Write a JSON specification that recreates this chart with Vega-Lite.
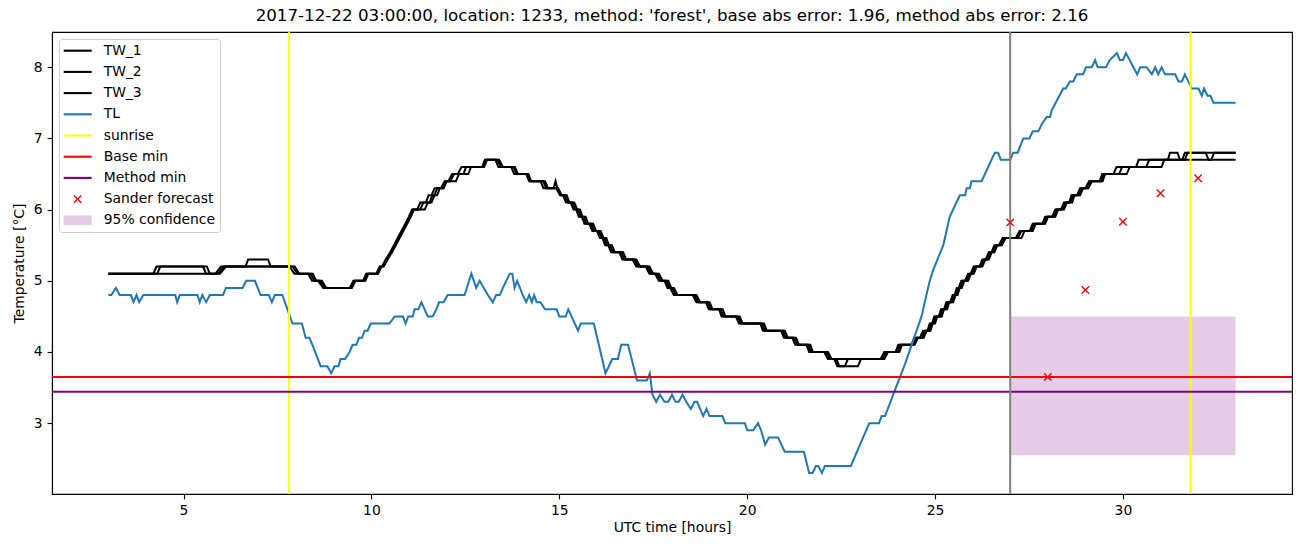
{
"$schema": "https://vega.github.io/schema/vega-lite/v6.json",
"width": 1240, "height": 462,
"autosize": {"type": "none"},
"padding": {"left": 52, "top": 32, "right": 10, "bottom": 53},
"background": "white",
"title": {"text": "2017-12-22 03:00:00, location: 1233, method: 'forest', base abs error: 1.96, method abs error: 2.16", "font": "DejaVu Sans", "fontSize": 16.7, "fontWeight": "normal", "color": "black", "anchor": "middle", "offset": 6},
"config": {
  "view": {"stroke": "black", "strokeWidth": 1.1},
  "axis": {"domainColor": "black", "domainWidth": 1.1, "tickColor": "black", "tickWidth": 1.1, "tickSize": 4.9, "labelPadding": 4.9, "labelFont": "DejaVu Sans", "labelFontSize": 13.9, "labelColor": "black", "titleFont": "DejaVu Sans", "titleFontSize": 13.9, "titleFontWeight": "normal", "titleColor": "black", "grid": false},
  "axisX": {"titlePadding": 3},
  "axisY": {"titlePadding": 7}
},
"datasets": {
"tw1": [{"h":3,"t":5.1},{"h":4.2,"t":5.1},{"h":4.28,"t":5.2},{"h":5.52,"t":5.2},{"h":5.6,"t":5.1},{"h":5.85,"t":5.1},{"h":6.0,"t":5.2},{"h":6.65,"t":5.2},{"h":6.72,"t":5.3},{"h":7.25,"t":5.3},{"h":7.32,"t":5.2},{"h":7.82,"t":5.2},{"h":7.95,"t":5.1},{"h":8.32,"t":5.1},{"h":8.42,"t":5.0},{"h":8.58,"t":5.0},{"h":8.72,"t":4.9},{"h":9.42,"t":4.9},{"h":9.52,"t":5.0},{"h":9.78,"t":5.0},{"h":9.86,"t":5.1},{"h":10.13,"t":5.1},{"h":10.22,"t":5.2},{"h":10.28,"t":5.2},{"h":10.38,"t":5.3},{"h":10.5,"t":5.4},{"h":10.6,"t":5.5},{"h":10.7,"t":5.6},{"h":10.8,"t":5.7},{"h":10.9,"t":5.8},{"h":11.0,"t":5.9},{"h":11.08,"t":6.0},{"h":11.42,"t":6.0},{"h":11.5,"t":6.1},{"h":11.55,"t":6.1},{"h":11.62,"t":6.2},{"h":11.68,"t":6.2},{"h":11.75,"t":6.3},{"h":11.85,"t":6.3},{"h":11.95,"t":6.4},{"h":12.05,"t":6.4},{"h":12.15,"t":6.5},{"h":12.3,"t":6.5},{"h":12.4,"t":6.6},{"h":12.95,"t":6.6},{"h":13.02,"t":6.7},{"h":13.35,"t":6.7},{"h":13.45,"t":6.6},{"h":13.78,"t":6.6},{"h":13.86,"t":6.5},{"h":14.12,"t":6.5},{"h":14.2,"t":6.4},{"h":14.57,"t":6.4},{"h":14.65,"t":6.3},{"h":14.92,"t":6.3},{"h":15.02,"t":6.2},{"h":15.1,"t":6.2},{"h":15.18,"t":6.1},{"h":15.3,"t":6.1},{"h":15.38,"t":6.0},{"h":15.45,"t":6.0},{"h":15.52,"t":5.9},{"h":15.6,"t":5.9},{"h":15.67,"t":5.8},{"h":15.8,"t":5.8},{"h":15.88,"t":5.7},{"h":16.0,"t":5.7},{"h":16.08,"t":5.6},{"h":16.15,"t":5.6},{"h":16.22,"t":5.5},{"h":16.3,"t":5.5},{"h":16.38,"t":5.4},{"h":16.6,"t":5.4},{"h":16.68,"t":5.3},{"h":16.95,"t":5.3},{"h":17.05,"t":5.2},{"h":17.3,"t":5.2},{"h":17.4,"t":5.1},{"h":17.55,"t":5.1},{"h":17.65,"t":5.0},{"h":17.8,"t":5.0},{"h":17.88,"t":4.9},{"h":17.95,"t":4.9},{"h":18.05,"t":4.8},{"h":18.55,"t":4.8},{"h":18.65,"t":4.7},{"h":18.9,"t":4.7},{"h":18.98,"t":4.6},{"h":19.25,"t":4.6},{"h":19.32,"t":4.5},{"h":19.7,"t":4.5},{"h":19.78,"t":4.4},{"h":20.35,"t":4.4},{"h":20.42,"t":4.3},{"h":20.9,"t":4.3},{"h":20.98,"t":4.2},{"h":21.2,"t":4.2},{"h":21.28,"t":4.1},{"h":21.58,"t":4.1},{"h":21.65,"t":4.0},{"h":22.05,"t":4.0},{"h":22.15,"t":3.9},{"h":23.55,"t":3.9},{"h":23.65,"t":4.0},{"h":23.95,"t":4.0},{"h":24.02,"t":4.1},{"h":24.38,"t":4.1},{"h":24.45,"t":4.2},{"h":24.6,"t":4.2},{"h":24.68,"t":4.3},{"h":24.8,"t":4.3},{"h":24.86,"t":4.4},{"h":24.92,"t":4.4},{"h":24.98,"t":4.5},{"h":25.1,"t":4.5},{"h":25.16,"t":4.6},{"h":25.24,"t":4.6},{"h":25.3,"t":4.7},{"h":25.4,"t":4.7},{"h":25.47,"t":4.8},{"h":25.52,"t":4.8},{"h":25.58,"t":4.9},{"h":25.63,"t":4.9},{"h":25.7,"t":5.0},{"h":25.8,"t":5.0},{"h":25.88,"t":5.1},{"h":25.95,"t":5.1},{"h":26.03,"t":5.2},{"h":26.18,"t":5.2},{"h":26.26,"t":5.3},{"h":26.35,"t":5.3},{"h":26.43,"t":5.4},{"h":26.5,"t":5.4},{"h":26.58,"t":5.5},{"h":26.7,"t":5.5},{"h":26.8,"t":5.6},{"h":27.15,"t":5.6},{"h":27.25,"t":5.7},{"h":27.52,"t":5.7},{"h":27.6,"t":5.8},{"h":27.85,"t":5.8},{"h":27.93,"t":5.9},{"h":28.12,"t":5.9},{"h":28.2,"t":6.0},{"h":28.35,"t":6.0},{"h":28.43,"t":6.1},{"h":28.57,"t":6.1},{"h":28.63,"t":6.2},{"h":28.78,"t":6.2},{"h":28.86,"t":6.3},{"h":29.0,"t":6.3},{"h":29.1,"t":6.4},{"h":29.38,"t":6.4},{"h":29.45,"t":6.5},{"h":29.75,"t":6.5},{"h":29.83,"t":6.6},{"h":30.35,"t":6.6},{"h":30.42,"t":6.7},{"h":31.2,"t":6.7},{"h":31.25,"t":6.8},{"h":31.45,"t":6.8},{"h":31.52,"t":6.7},{"h":31.58,"t":6.7},{"h":31.65,"t":6.8},{"h":33,"t":6.8}],
"tw2": [{"h":3,"t":5.1},{"h":4.3,"t":5.1},{"h":4.38,"t":5.2},{"h":5.62,"t":5.2},{"h":5.7,"t":5.1},{"h":5.92,"t":5.1},{"h":6.07,"t":5.2},{"h":7.9,"t":5.2},{"h":8.03,"t":5.1},{"h":8.38,"t":5.1},{"h":8.48,"t":5.0},{"h":8.63,"t":5.0},{"h":8.77,"t":4.9},{"h":9.48,"t":4.9},{"h":9.58,"t":5.0},{"h":9.84,"t":5.0},{"h":9.92,"t":5.1},{"h":10.18,"t":5.1},{"h":10.27,"t":5.2},{"h":10.33,"t":5.2},{"h":10.43,"t":5.3},{"h":10.55,"t":5.4},{"h":10.65,"t":5.5},{"h":10.75,"t":5.6},{"h":10.85,"t":5.7},{"h":10.95,"t":5.8},{"h":11.05,"t":5.9},{"h":11.13,"t":6.0},{"h":11.3,"t":6.0},{"h":11.38,"t":6.1},{"h":11.6,"t":6.1},{"h":11.68,"t":6.2},{"h":11.75,"t":6.2},{"h":11.82,"t":6.3},{"h":11.92,"t":6.3},{"h":12.0,"t":6.4},{"h":12.1,"t":6.4},{"h":12.2,"t":6.5},{"h":12.45,"t":6.5},{"h":12.52,"t":6.6},{"h":12.98,"t":6.6},{"h":13.05,"t":6.7},{"h":13.3,"t":6.7},{"h":13.38,"t":6.6},{"h":13.72,"t":6.6},{"h":13.8,"t":6.5},{"h":14.18,"t":6.5},{"h":14.25,"t":6.4},{"h":14.5,"t":6.4},{"h":14.58,"t":6.3},{"h":14.97,"t":6.3},{"h":15.07,"t":6.2},{"h":15.15,"t":6.2},{"h":15.23,"t":6.1},{"h":15.35,"t":6.1},{"h":15.43,"t":6.0},{"h":15.5,"t":6.0},{"h":15.57,"t":5.9},{"h":15.65,"t":5.9},{"h":15.72,"t":5.8},{"h":15.85,"t":5.8},{"h":15.93,"t":5.7},{"h":16.05,"t":5.7},{"h":16.13,"t":5.6},{"h":16.2,"t":5.6},{"h":16.27,"t":5.5},{"h":16.35,"t":5.5},{"h":16.43,"t":5.4},{"h":16.65,"t":5.4},{"h":16.73,"t":5.3},{"h":17.0,"t":5.3},{"h":17.1,"t":5.2},{"h":17.35,"t":5.2},{"h":17.45,"t":5.1},{"h":17.6,"t":5.1},{"h":17.7,"t":5.0},{"h":17.85,"t":5.0},{"h":17.93,"t":4.9},{"h":18.0,"t":4.9},{"h":18.1,"t":4.8},{"h":18.6,"t":4.8},{"h":18.7,"t":4.7},{"h":18.95,"t":4.7},{"h":19.03,"t":4.6},{"h":19.3,"t":4.6},{"h":19.37,"t":4.5},{"h":19.75,"t":4.5},{"h":19.83,"t":4.4},{"h":20.4,"t":4.4},{"h":20.47,"t":4.3},{"h":20.95,"t":4.3},{"h":21.03,"t":4.2},{"h":21.25,"t":4.2},{"h":21.33,"t":4.1},{"h":21.63,"t":4.1},{"h":21.7,"t":4.0},{"h":22.1,"t":4.0},{"h":22.2,"t":3.9},{"h":22.38,"t":3.9},{"h":22.45,"t":3.8},{"h":22.6,"t":3.8},{"h":22.68,"t":3.9},{"h":23.6,"t":3.9},{"h":23.7,"t":4.0},{"h":24.0,"t":4.0},{"h":24.07,"t":4.1},{"h":24.42,"t":4.1},{"h":24.5,"t":4.2},{"h":24.65,"t":4.2},{"h":24.73,"t":4.3},{"h":24.84,"t":4.3},{"h":24.9,"t":4.4},{"h":24.96,"t":4.4},{"h":25.02,"t":4.5},{"h":25.14,"t":4.5},{"h":25.2,"t":4.6},{"h":25.28,"t":4.6},{"h":25.34,"t":4.7},{"h":25.44,"t":4.7},{"h":25.51,"t":4.8},{"h":25.56,"t":4.8},{"h":25.62,"t":4.9},{"h":25.67,"t":4.9},{"h":25.74,"t":5.0},{"h":25.84,"t":5.0},{"h":25.92,"t":5.1},{"h":25.99,"t":5.1},{"h":26.07,"t":5.2},{"h":26.22,"t":5.2},{"h":26.3,"t":5.3},{"h":26.39,"t":5.3},{"h":26.47,"t":5.4},{"h":26.54,"t":5.4},{"h":26.62,"t":5.5},{"h":26.74,"t":5.5},{"h":26.84,"t":5.6},{"h":27.2,"t":5.6},{"h":27.3,"t":5.7},{"h":27.56,"t":5.7},{"h":27.64,"t":5.8},{"h":27.89,"t":5.8},{"h":27.97,"t":5.9},{"h":28.16,"t":5.9},{"h":28.24,"t":6.0},{"h":28.39,"t":6.0},{"h":28.47,"t":6.1},{"h":28.61,"t":6.1},{"h":28.67,"t":6.2},{"h":28.82,"t":6.2},{"h":28.9,"t":6.3},{"h":29.04,"t":6.3},{"h":29.14,"t":6.4},{"h":29.42,"t":6.4},{"h":29.49,"t":6.5},{"h":29.9,"t":6.5},{"h":29.98,"t":6.6},{"h":30.62,"t":6.6},{"h":30.7,"t":6.7},{"h":31.65,"t":6.7},{"h":31.72,"t":6.8},{"h":32.2,"t":6.8},{"h":32.28,"t":6.7},{"h":32.35,"t":6.7},{"h":32.43,"t":6.8},{"h":33,"t":6.8}],
"tw3": [{"h":3,"t":5.1},{"h":5.97,"t":5.1},{"h":6.13,"t":5.2},{"h":7.96,"t":5.2},{"h":8.08,"t":5.1},{"h":8.44,"t":5.1},{"h":8.53,"t":5.0},{"h":8.68,"t":5.0},{"h":8.8,"t":4.9},{"h":9.44,"t":4.9},{"h":9.55,"t":5.0},{"h":9.8,"t":5.0},{"h":9.88,"t":5.1},{"h":10.16,"t":5.1},{"h":10.24,"t":5.2},{"h":10.3,"t":5.2},{"h":10.4,"t":5.3},{"h":10.52,"t":5.4},{"h":10.63,"t":5.5},{"h":10.73,"t":5.6},{"h":10.83,"t":5.7},{"h":10.93,"t":5.8},{"h":11.03,"t":5.9},{"h":11.1,"t":6.0},{"h":11.22,"t":6.0},{"h":11.3,"t":6.1},{"h":11.45,"t":6.1},{"h":11.52,"t":6.2},{"h":11.6,"t":6.2},{"h":11.68,"t":6.3},{"h":11.92,"t":6.3},{"h":12.0,"t":6.4},{"h":12.25,"t":6.4},{"h":12.33,"t":6.5},{"h":12.58,"t":6.5},{"h":12.65,"t":6.6},{"h":13.0,"t":6.6},{"h":13.08,"t":6.7},{"h":13.4,"t":6.7},{"h":13.5,"t":6.6},{"h":13.82,"t":6.6},{"h":13.9,"t":6.5},{"h":14.15,"t":6.5},{"h":14.23,"t":6.4},{"h":14.62,"t":6.4},{"h":14.7,"t":6.3},{"h":14.85,"t":6.3},{"h":14.9,"t":6.4},{"h":14.95,"t":6.3},{"h":15.05,"t":6.2},{"h":15.2,"t":6.2},{"h":15.27,"t":6.1},{"h":15.4,"t":6.1},{"h":15.48,"t":6.0},{"h":15.55,"t":6.0},{"h":15.62,"t":5.9},{"h":15.7,"t":5.9},{"h":15.77,"t":5.8},{"h":15.9,"t":5.8},{"h":15.98,"t":5.7},{"h":16.1,"t":5.7},{"h":16.18,"t":5.6},{"h":16.25,"t":5.6},{"h":16.32,"t":5.5},{"h":16.4,"t":5.5},{"h":16.48,"t":5.4},{"h":16.7,"t":5.4},{"h":16.78,"t":5.3},{"h":17.05,"t":5.3},{"h":17.15,"t":5.2},{"h":17.4,"t":5.2},{"h":17.5,"t":5.1},{"h":17.65,"t":5.1},{"h":17.75,"t":5.0},{"h":17.9,"t":5.0},{"h":17.98,"t":4.9},{"h":18.05,"t":4.9},{"h":18.15,"t":4.8},{"h":18.65,"t":4.8},{"h":18.75,"t":4.7},{"h":19.0,"t":4.7},{"h":19.08,"t":4.6},{"h":19.35,"t":4.6},{"h":19.42,"t":4.5},{"h":19.8,"t":4.5},{"h":19.88,"t":4.4},{"h":20.45,"t":4.4},{"h":20.52,"t":4.3},{"h":21.0,"t":4.3},{"h":21.08,"t":4.2},{"h":21.3,"t":4.2},{"h":21.38,"t":4.1},{"h":21.68,"t":4.1},{"h":21.75,"t":4.0},{"h":22.15,"t":4.0},{"h":22.25,"t":3.9},{"h":22.32,"t":3.9},{"h":22.4,"t":3.8},{"h":22.95,"t":3.8},{"h":23.03,"t":3.9},{"h":23.65,"t":3.9},{"h":23.75,"t":4.0},{"h":24.05,"t":4.0},{"h":24.12,"t":4.1},{"h":24.46,"t":4.1},{"h":24.54,"t":4.2},{"h":24.7,"t":4.2},{"h":24.78,"t":4.3},{"h":24.88,"t":4.3},{"h":24.94,"t":4.4},{"h":25.0,"t":4.4},{"h":25.06,"t":4.5},{"h":25.18,"t":4.5},{"h":25.24,"t":4.6},{"h":25.32,"t":4.6},{"h":25.38,"t":4.7},{"h":25.48,"t":4.7},{"h":25.55,"t":4.8},{"h":25.6,"t":4.8},{"h":25.66,"t":4.9},{"h":25.71,"t":4.9},{"h":25.78,"t":5.0},{"h":25.88,"t":5.0},{"h":25.96,"t":5.1},{"h":26.03,"t":5.1},{"h":26.11,"t":5.2},{"h":26.26,"t":5.2},{"h":26.34,"t":5.3},{"h":26.43,"t":5.3},{"h":26.51,"t":5.4},{"h":26.58,"t":5.4},{"h":26.66,"t":5.5},{"h":26.78,"t":5.5},{"h":26.88,"t":5.6},{"h":27.3,"t":5.6},{"h":27.38,"t":5.7},{"h":27.6,"t":5.7},{"h":27.68,"t":5.8},{"h":27.93,"t":5.8},{"h":28.01,"t":5.9},{"h":28.2,"t":5.9},{"h":28.28,"t":6.0},{"h":28.43,"t":6.0},{"h":28.51,"t":6.1},{"h":28.65,"t":6.1},{"h":28.71,"t":6.2},{"h":28.86,"t":6.2},{"h":28.94,"t":6.3},{"h":29.08,"t":6.3},{"h":29.18,"t":6.4},{"h":29.46,"t":6.4},{"h":29.53,"t":6.5},{"h":30.1,"t":6.5},{"h":30.18,"t":6.6},{"h":31.03,"t":6.6},{"h":31.1,"t":6.7},{"h":33,"t":6.7}],
"tl": [{"h":3.0,"t":4.8},{"h":3.08,"t":4.8},{"h":3.2,"t":4.9},{"h":3.3,"t":4.8},{"h":3.6,"t":4.8},{"h":3.67,"t":4.7},{"h":3.75,"t":4.8},{"h":3.82,"t":4.7},{"h":3.93,"t":4.8},{"h":4.78,"t":4.8},{"h":4.83,"t":4.7},{"h":4.9,"t":4.8},{"h":5.37,"t":4.8},{"h":5.43,"t":4.7},{"h":5.5,"t":4.8},{"h":5.6,"t":4.7},{"h":5.7,"t":4.8},{"h":6.05,"t":4.8},{"h":6.13,"t":4.9},{"h":6.57,"t":4.9},{"h":6.67,"t":5.0},{"h":6.9,"t":5.0},{"h":7.05,"t":4.8},{"h":7.27,"t":4.8},{"h":7.35,"t":4.7},{"h":7.43,"t":4.8},{"h":7.63,"t":4.8},{"h":7.9,"t":4.4},{"h":8.15,"t":4.4},{"h":8.25,"t":4.2},{"h":8.35,"t":4.2},{"h":8.43,"t":4.1},{"h":8.65,"t":3.8},{"h":8.83,"t":3.8},{"h":8.93,"t":3.7},{"h":9.02,"t":3.8},{"h":9.12,"t":3.8},{"h":9.18,"t":3.9},{"h":9.3,"t":3.9},{"h":9.42,"t":4.0},{"h":9.5,"t":4.1},{"h":9.6,"t":4.1},{"h":9.67,"t":4.2},{"h":9.75,"t":4.2},{"h":9.82,"t":4.3},{"h":9.9,"t":4.3},{"h":9.98,"t":4.4},{"h":10.48,"t":4.4},{"h":10.62,"t":4.5},{"h":10.84,"t":4.5},{"h":10.91,"t":4.4},{"h":10.98,"t":4.5},{"h":11.1,"t":4.5},{"h":11.15,"t":4.6},{"h":11.25,"t":4.6},{"h":11.33,"t":4.7},{"h":11.5,"t":4.5},{"h":11.63,"t":4.5},{"h":11.73,"t":4.6},{"h":11.8,"t":4.7},{"h":11.92,"t":4.7},{"h":12.03,"t":4.8},{"h":12.48,"t":4.8},{"h":12.66,"t":5.1},{"h":12.79,"t":4.9},{"h":12.88,"t":5.0},{"h":13.1,"t":4.8},{"h":13.23,"t":4.7},{"h":13.32,"t":4.8},{"h":13.42,"t":4.8},{"h":13.5,"t":4.9},{"h":13.68,"t":5.1},{"h":13.75,"t":5.1},{"h":13.81,"t":4.9},{"h":13.88,"t":5.0},{"h":14.03,"t":4.8},{"h":14.12,"t":4.7},{"h":14.2,"t":4.8},{"h":14.27,"t":4.7},{"h":14.33,"t":4.8},{"h":14.4,"t":4.7},{"h":14.5,"t":4.7},{"h":14.62,"t":4.6},{"h":14.93,"t":4.6},{"h":15.0,"t":4.5},{"h":15.17,"t":4.5},{"h":15.24,"t":4.6},{"h":15.5,"t":4.3},{"h":15.57,"t":4.4},{"h":15.92,"t":4.4},{"h":16.23,"t":3.7},{"h":16.41,"t":3.9},{"h":16.56,"t":3.9},{"h":16.65,"t":4.1},{"h":16.83,"t":4.1},{"h":17.02,"t":3.7},{"h":17.07,"t":3.6},{"h":17.33,"t":3.6},{"h":17.41,"t":3.7},{"h":17.48,"t":3.4},{"h":17.58,"t":3.3},{"h":17.68,"t":3.4},{"h":17.8,"t":3.3},{"h":17.9,"t":3.3},{"h":18.0,"t":3.4},{"h":18.09,"t":3.3},{"h":18.18,"t":3.3},{"h":18.28,"t":3.4},{"h":18.38,"t":3.3},{"h":18.5,"t":3.2},{"h":18.6,"t":3.3},{"h":18.67,"t":3.3},{"h":18.83,"t":3.1},{"h":18.92,"t":3.2},{"h":19.0,"t":3.1},{"h":19.34,"t":3.1},{"h":19.42,"t":3.0},{"h":19.94,"t":3.0},{"h":20.0,"t":2.9},{"h":20.16,"t":2.9},{"h":20.29,"t":3.0},{"h":20.37,"t":2.9},{"h":20.48,"t":2.7},{"h":20.58,"t":2.8},{"h":20.82,"t":2.8},{"h":21.0,"t":2.6},{"h":21.51,"t":2.6},{"h":21.65,"t":2.3},{"h":21.74,"t":2.3},{"h":21.83,"t":2.4},{"h":21.89,"t":2.4},{"h":21.99,"t":2.3},{"h":22.07,"t":2.4},{"h":22.76,"t":2.4},{"h":23.25,"t":3.0},{"h":23.51,"t":3.0},{"h":23.58,"t":3.1},{"h":23.67,"t":3.1},{"h":23.93,"t":3.46},{"h":24.2,"t":3.83},{"h":24.51,"t":4.3},{"h":24.64,"t":4.5},{"h":24.77,"t":4.8},{"h":24.86,"t":5.0},{"h":24.95,"t":5.15},{"h":25.22,"t":5.5},{"h":25.39,"t":5.9},{"h":25.66,"t":6.2},{"h":25.8,"t":6.2},{"h":25.84,"t":6.3},{"h":25.93,"t":6.3},{"h":25.97,"t":6.4},{"h":26.24,"t":6.4},{"h":26.59,"t":6.8},{"h":26.68,"t":6.8},{"h":26.75,"t":6.7},{"h":27.0,"t":6.7},{"h":27.08,"t":6.8},{"h":27.2,"t":6.8},{"h":27.27,"t":6.9},{"h":27.35,"t":7.0},{"h":27.51,"t":7.0},{"h":27.6,"t":7.1},{"h":27.75,"t":7.1},{"h":27.84,"t":7.2},{"h":27.97,"t":7.3},{"h":28.06,"t":7.3},{"h":28.11,"t":7.4},{"h":28.41,"t":7.7},{"h":28.48,"t":7.7},{"h":28.59,"t":7.8},{"h":28.68,"t":7.8},{"h":28.77,"t":7.9},{"h":28.94,"t":7.9},{"h":29.02,"t":8.0},{"h":29.17,"t":8.0},{"h":29.26,"t":8.1},{"h":29.33,"t":8.0},{"h":29.55,"t":8.0},{"h":29.65,"t":8.1},{"h":29.84,"t":8.2},{"h":29.92,"t":8.1},{"h":30.0,"t":8.1},{"h":30.08,"t":8.2},{"h":30.18,"t":8.1},{"h":30.28,"t":8.0},{"h":30.38,"t":7.9},{"h":30.46,"t":8.0},{"h":30.63,"t":8.0},{"h":30.77,"t":7.9},{"h":30.86,"t":8.0},{"h":30.94,"t":7.9},{"h":31.03,"t":8.0},{"h":31.12,"t":7.9},{"h":31.39,"t":7.9},{"h":31.48,"t":7.8},{"h":31.57,"t":7.8},{"h":31.65,"t":7.9},{"h":31.83,"t":7.7},{"h":32.01,"t":7.7},{"h":32.1,"t":7.6},{"h":32.16,"t":7.7},{"h":32.25,"t":7.6},{"h":32.33,"t":7.6},{"h":32.41,"t":7.5},{"h":33.0,"t":7.5}]
},
"layer": [
{"data": {"values": [{"x1": 27, "x2": 33, "y1": 2.55, "y2": 4.5}]},
 "mark": {"type": "rect", "color": "#800080", "opacity": 0.2},
 "encoding": {
  "x": {"field": "x1", "type": "quantitative", "scale": {"domain": [1.5, 34.5], "nice": false, "zero": false}, "title": "UTC time [hours]", "axis": {"values": [5, 10, 15, 20, 25, 30], "format": "d"}},
  "x2": {"field": "x2"},
  "y": {"field": "y1", "type": "quantitative", "scale": {"domain": [2.005, 8.495], "nice": false, "zero": false}, "title": "Temperature [°C]", "axis": {"values": [3, 4, 5, 6, 7, 8], "format": "d"}},
  "y2": {"field": "y2"}}},
{"data": {"name": "tw1"}, "mark": {"type": "line", "color": "black", "strokeWidth": 2},
 "encoding": {"x": {"field": "h", "type": "quantitative", "scale": {"domain": [1.5, 34.5], "nice": false, "zero": false}, "title": "UTC time [hours]"}, "y": {"field": "t", "type": "quantitative", "scale": {"domain": [2.005, 8.495], "nice": false, "zero": false}, "title": "Temperature [°C]"}}},
{"data": {"name": "tw2"}, "mark": {"type": "line", "color": "black", "strokeWidth": 2},
 "encoding": {"x": {"field": "h", "type": "quantitative", "scale": {"domain": [1.5, 34.5], "nice": false, "zero": false}, "title": "UTC time [hours]"}, "y": {"field": "t", "type": "quantitative", "scale": {"domain": [2.005, 8.495], "nice": false, "zero": false}, "title": "Temperature [°C]"}}},
{"data": {"name": "tw3"}, "mark": {"type": "line", "color": "black", "strokeWidth": 2},
 "encoding": {"x": {"field": "h", "type": "quantitative", "scale": {"domain": [1.5, 34.5], "nice": false, "zero": false}, "title": "UTC time [hours]"}, "y": {"field": "t", "type": "quantitative", "scale": {"domain": [2.005, 8.495], "nice": false, "zero": false}, "title": "Temperature [°C]"}}},
{"data": {"name": "tl"}, "mark": {"type": "line", "color": "#1f77b4", "strokeWidth": 2},
 "encoding": {"x": {"field": "h", "type": "quantitative", "scale": {"domain": [1.5, 34.5], "nice": false, "zero": false}, "title": "UTC time [hours]"}, "y": {"field": "t", "type": "quantitative", "scale": {"domain": [2.005, 8.495], "nice": false, "zero": false}, "title": "Temperature [°C]"}}},
{"data": {"values": [{"h": 7.81}, {"h": 31.8}]}, "mark": {"type": "rule", "color": "yellow", "strokeWidth": 2},
 "encoding": {"x": {"field": "h", "type": "quantitative", "scale": {"domain": [1.5, 34.5], "nice": false, "zero": false}, "title": "UTC time [hours]"}}},
{"data": {"values": [{"t": 3.65}]}, "mark": {"type": "rule", "color": "red", "strokeWidth": 2},
 "encoding": {"y": {"field": "t", "type": "quantitative", "scale": {"domain": [2.005, 8.495], "nice": false, "zero": false}, "title": "Temperature [°C]"}}},
{"data": {"values": [{"t": 3.44}]}, "mark": {"type": "rule", "color": "purple", "strokeWidth": 2},
 "encoding": {"y": {"field": "t", "type": "quantitative", "scale": {"domain": [2.005, 8.495], "nice": false, "zero": false}, "title": "Temperature [°C]"}}},
{"data": {"values": [{"h": 27}]}, "mark": {"type": "rule", "color": "gray", "strokeWidth": 2},
 "encoding": {"x": {"field": "h", "type": "quantitative", "scale": {"domain": [1.5, 34.5], "nice": false, "zero": false}, "title": "UTC time [hours]"}}},
{"data": {"values": [
  {"series": "Sander forecast", "h": 27, "t": 5.82},
  {"series": "Sander forecast", "h": 28, "t": 3.65},
  {"series": "Sander forecast", "h": 29, "t": 4.87},
  {"series": "Sander forecast", "h": 30, "t": 5.83},
  {"series": "Sander forecast", "h": 31, "t": 6.23},
  {"series": "Sander forecast", "h": 32, "t": 6.44}]},
 "mark": {"type": "point", "filled": true, "opacity": 1, "size": 196, "xOffset": -7, "strokeWidth": 0},
 "encoding": {
  "x": {"field": "h", "type": "quantitative", "scale": {"domain": [1.5, 34.5], "nice": false, "zero": false}, "title": "UTC time [hours]"},
  "y": {"field": "t", "type": "quantitative", "scale": {"domain": [2.005, 8.495], "nice": false, "zero": false}, "title": "Temperature [°C]"},
  "color": {"field": "series", "type": "nominal",
    "scale": {"domain": ["TW_1", "TW_2", "TW_3", "TL", "sunrise", "Base min", "Method min", "Sander forecast", "95% confidence"],
              "range": ["#000000", "#000000", "#000000", "#1f77b4", "#ffff00", "#ff0000", "#800080", "#ff0000", "#e5cce5"]},
    "legend": {"title": null, "orient": "none", "legendX": 7, "legendY": 7, "symbolSize": 196, "symbolStrokeWidth": 0, "symbolOpacity": 1, "labelOffset": 26, "rowPadding": 7.2, "padding": 4.7, "strokeColor": "#cccccc", "fillColor": "rgba(255,255,255,0.8)", "cornerRadius": 3, "labelFont": "DejaVu Sans", "labelFontSize": 13.9, "labelColor": "black", "labelLimit": 400}},
  "shape": {"field": "series", "type": "nominal",
    "scale": {"domain": ["TW_1", "TW_2", "TW_3", "TL", "sunrise", "Base min", "Method min", "Sander forecast", "95% confidence"],
              "range": ["M-1,-0.15H3V0.15H-1Z", "M-1,-0.15H3V0.15H-1Z", "M-1,-0.15H3V0.15H-1Z", "M-1,-0.15H3V0.15H-1Z", "M-1,-0.15H3V0.15H-1Z", "M-1,-0.15H3V0.15H-1Z", "M-1,-0.15H3V0.15H-1Z", "M0.54,-0.6L1,-0.14L1.46,-0.6L1.6,-0.46L1.14,0L1.6,0.46L1.46,0.6L1,0.14L0.54,0.6L0.4,0.46L0.86,0L0.4,-0.46Z", "M-1,-0.7H3V0.7H-1Z"]},
    "legend": {"title": null, "orient": "none", "legendX": 7, "legendY": 7, "symbolSize": 196, "symbolStrokeWidth": 0, "symbolOpacity": 1, "labelOffset": 26, "rowPadding": 7.2, "padding": 4.7, "strokeColor": "#cccccc", "fillColor": "rgba(255,255,255,0.8)", "cornerRadius": 3, "labelFont": "DejaVu Sans", "labelFontSize": 13.9, "labelColor": "black", "labelLimit": 400}}}}
]
}
